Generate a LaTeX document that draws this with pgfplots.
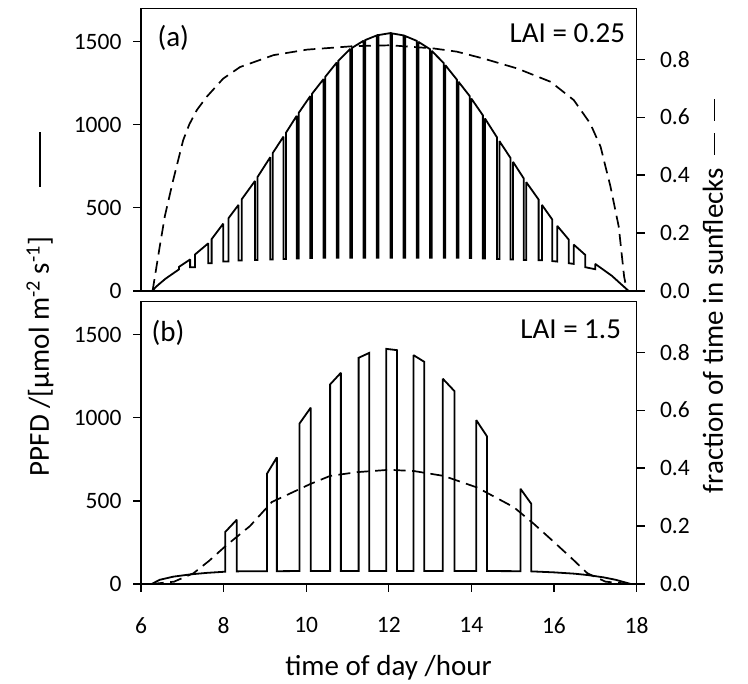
\documentclass[border=0pt]{standalone}
\usepackage{pgfplots}
\pgfplotsset{compat=1.18}
\usepackage{fontspec}
\setmainfont{Carlito}
\newcommand{\ticksize}{\fontsize{23.5}{27}\selectfont}
\newcommand{\labsize}{\fontsize{29}{34}\selectfont}

\pgfplotsset{
  base/.style={
    scale only axis, width=495.5pt, height=282.5pt,
    xmin=6, xmax=18,
    axis line style={line width=1.2pt},
    every tick/.style={line width=1.2pt, black},
    major tick length=8pt, tick align=outside,
    tick label style={font=\ticksize},
    /pgf/number format/assume math mode=true,
    /pgf/number format/1000 sep={},
  },
  left/.style={base,
    ymin=0, ymax=1700,
    ytick={0,500,1000,1500}, ytick pos=left,
    yticklabel style={xshift=-8pt},
    xticklabel style={yshift=-22pt},
    xtick pos=bottom,
  },
  right/.style={base,
    ymin=0, ymax=0.975,
    axis y line*=right, axis x line=none,
    ytick={0,0.2,0.4,0.6,0.8},
    yticklabel style={xshift=12pt, /pgf/number format/.cd, fixed, fixed zerofill, precision=1},
  },
  solidl/.style={black, line width=1.8pt, line join=miter, miter limit=2},
  dashl/.style={black, line width=1.7pt, dash pattern=on 12pt off 6.5pt},
}

\begin{document}
\begin{tikzpicture}
\useasboundingbox (0,0) rectangle (748pt,684pt);

% ---------- panel (a) ----------
\begin{axis}[left, at={(141pt,393pt)}, anchor=south west, xtick=\empty]
\addplot[solidl] coordinates {
(6.28,0) (6.35,22) (6.46,46) (6.60,75) (6.78,106) (6.92,130)
(6.92,145) (7.19,190)
(7.19,143) (7.31,143) (7.31,220) (7.63,287)
(7.63,167) (7.71,167) (7.71,312) (7.99,405)
(7.99,177) (8.12,177) (8.12,438) (8.36,518)
(8.36,183) (8.44,183) (8.44,552) (8.76,662)
(8.76,187) (8.82,187) (8.82,685)
(9.13,805) (9.13,190) (9.19,190) (9.19,830)
(9.45,929) (9.45,193) (9.51,193) (9.51,952)
(9.77,1054) (9.77,196) (9.82,196) (9.82,1072)
(10.10,1173) (10.10,198) (10.14,198) (10.14,1186)
(10.42,1275) (10.42,200) (10.46,200) (10.46,1288)
(10.74,1375) (10.74,200) (10.78,200) (10.78,1385)
(11.07,1457) (11.07,200) (11.11,200) (11.11,1463)
(11.39,1506) (11.39,200) (11.43,200) (11.43,1510)
(11.71,1538) (11.71,200) (11.75,200) (11.75,1540)
(12.04,1552) (12.04,200) (12.08,200) (12.08,1550)
(12.36,1538) (12.36,200) (12.40,200) (12.40,1534)
(12.68,1505) (12.68,200) (12.72,200) (12.72,1499)
(13.00,1455) (13.00,200) (13.04,200) (13.04,1445)
(13.33,1372) (13.33,200) (13.37,200) (13.37,1359)
(13.65,1272) (13.65,200) (13.69,200) (13.69,1259)
(13.96,1173) (13.96,198) (14.00,198) (14.00,1158)
(14.28,1057) (14.28,196) (14.33,196) (14.33,1038)
(14.62,925) (14.62,193) (14.68,193) (14.68,902)
(14.95,800) (14.95,190) (15.01,190) (15.01,777)
(15.27,677) (15.27,187) (15.33,187) (15.33,655)
(15.63,550) (15.63,185) (15.71,185) (15.71,518)
(15.96,430) (15.96,180) (16.08,177) (16.08,392)
(16.36,309) (16.36,167) (16.48,163) (16.48,279)
(16.76,217) (16.76,143) (17.00,131) (17.00,163)
(17.40,92) (17.81,0)
};
\node[anchor=west, font=\labsize, xshift=13pt, yshift=-29pt] at (rel axis cs:0,1) {(a)};
\node[anchor=base east, font=\labsize, xshift=-8pt, yshift=-34pt] at (rel axis cs:1,1) {LAI = 0.25};
\end{axis}
\begin{axis}[right, at={(141pt,393pt)}, anchor=south west]
\addplot[dashl] coordinates {
(6.28,0) (6.45,0.15) (6.58,0.26) (6.78,0.383) (7.02,0.52) (7.17,0.575) (7.35,0.624)
(7.59,0.67) (7.99,0.733) (8.4,0.773) (9.21,0.814) (10.02,0.833) (11.15,0.845)
(12.04,0.848) (13.09,0.837) (13.65,0.826) (14.30,0.802) (15.11,0.768) (15.92,0.722)
(16.48,0.659) (16.88,0.578) (17.13,0.498) (17.37,0.36) (17.57,0.222) (17.70,0.05) (17.77,0)
};
\end{axis}

% ---------- panel (b) ----------
\begin{axis}[left, at={(141pt,100pt)}, anchor=south west, xtick={6,8,...,18}]
\addplot[solidl] coordinates {
(6.26,0) (6.45,25) (6.78,44) (7.2,58) (7.6,67) (8.04,74)
(8.04,313) (8.32,387) (8.32,76)
(9.05,77) (9.05,663) (9.29,762) (9.29,77)
(9.84,78) (9.84,966) (10.11,1061) (10.11,78)
(10.58,78) (10.58,1201) (10.84,1271) (10.84,78)
(11.27,78) (11.27,1361) (11.53,1391) (11.53,78)
(11.94,78) (11.94,1415) (12.2,1407) (12.2,78)
(12.6,78) (12.6,1377) (12.86,1337) (12.86,78)
(13.31,78) (13.31,1235) (13.59,1161) (13.59,78)
(14.12,78) (14.12,986) (14.38,888) (14.38,78)
(15.19,77) (15.19,573) (15.45,483) (15.45,76)
(16.0,70) (16.5,62) (16.81,54) (17.2,40) (17.5,25) (17.86,0)
};
\node[anchor=west, font=\labsize, xshift=7pt, yshift=-31pt] at (rel axis cs:0,1) {(b)};
\node[anchor=base east, font=\labsize, xshift=-12pt, yshift=-37pt] at (rel axis cs:1,1) {LAI = 1.5};
\end{axis}
\begin{axis}[right, at={(141pt,100pt)}, anchor=south west]
\addplot[dashl] coordinates {
(6.26,0) (6.8,0.008) (7.27,0.037) (7.65,0.08) (8.04,0.13) (8.64,0.2) (9.17,0.283)
(10.1,0.345) (10.58,0.373) (11.23,0.386) (12.0,0.394) (12.6,0.39) (13.33,0.373)
(14.14,0.333) (15.03,0.265) (15.51,0.208) (16.0,0.145) (16.48,0.082) (16.81,0.037)
(17.25,0.008) (17.86,0)
};
\end{axis}

% ---------- axis titles ----------
\node[rotate=90, font=\labsize] at (40pt,380pt) {PPFD /[µmol m\textsuperscript{-2} s\textsuperscript{-1}]\hspace{50pt}\rule[0.28em]{55pt}{1.2pt}};
\node[rotate=90, font=\labsize] at (713pt,388pt) {fraction of time in sunflecks\hspace{13pt}\rule[0.28em]{22pt}{1.2pt}\hspace{12pt}\rule[0.28em]{22pt}{1.2pt}};
\node[anchor=base, font=\labsize] at (388.5pt,8pt) {time of day /hour};
\end{tikzpicture}
\end{document}
